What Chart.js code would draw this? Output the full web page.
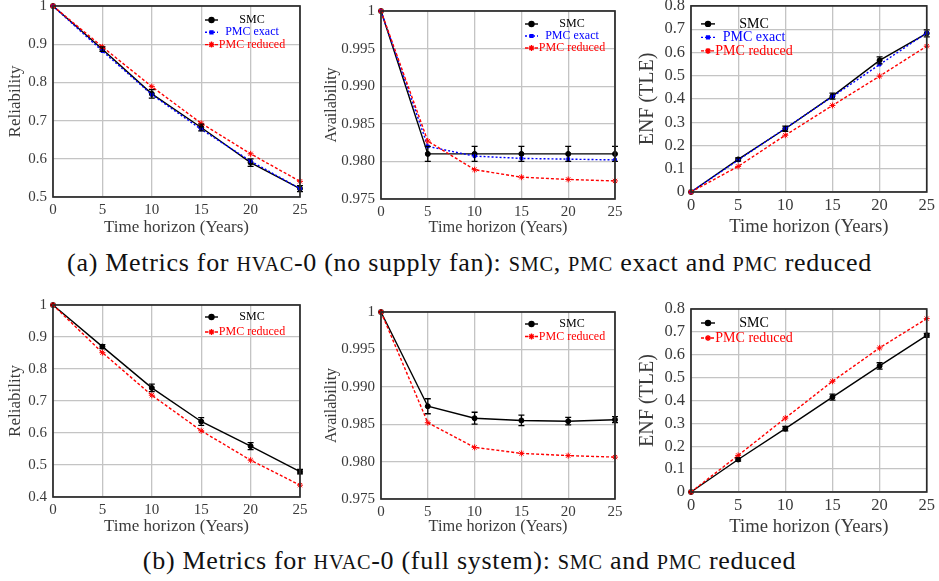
<!DOCTYPE html>
<html>
<head>
<meta charset="utf-8">
<script src="https://cdn.jsdelivr.net/npm/chart.js@4.4.1/dist/chart.umd.min.js"></script>
<style>
  html, body { margin: 0; padding: 0; background: #fff; }
  body { width: 939px; height: 581px; position: relative; overflow: hidden; font-family: 'Liberation Serif', serif; }
  .cap { position: absolute; left: 0; width: 939px; text-align: center; font-family: 'Liberation Serif', serif; font-size: 26px; letter-spacing: 0.7px; line-height: 28px; color: #111; white-space: nowrap; }
  .sc { font-size: 0.78em; }
</style>
</head>
<body>
<div class="cap" style="top:249px">(a) Metrics for <span class="sc">HVAC</span>-0 (no supply fan): <span class="sc">SMC</span>, <span class="sc">PMC</span> exact and <span class="sc">PMC</span> reduced</div>
<div class="cap" style="top:547px">(b) Metrics for <span class="sc">HVAC</span>-0 (full system): <span class="sc">SMC</span> and <span class="sc">PMC</span> reduced</div>
<script>
// time axis
const years = [0, 5, 10, 15, 20, 25];
const xTickLabels = ['0', '5', '10', '15', '20', '25'];

// (a) HVAC-0, no supply fan
const relA_smc = [1, 0.887, 0.770, 0.682, 0.590, 0.522];
const relA_smcErr = [0, 0.006, 0.011, 0.009, 0.010, 0.008];
const relA_exact = [1, 0.882, 0.768, 0.677, 0.594, 0.522];
const relA_reduced = [1, 0.893, 0.789, 0.693, 0.613, 0.541];

const avA_smc = [1, 0.981, 0.981, 0.981, 0.981, 0.981];
const avA_smcErr = [0, 0.001, 0.001, 0.001, 0.001, 0.001];
const avA_exact = [1, 0.9820, 0.9807, 0.9804, 0.9803, 0.9802];
const avA_reduced = [1, 0.9827, 0.9789, 0.9779, 0.9776, 0.9774];

const enfA_smc = [0, 0.140, 0.272, 0.412, 0.566, 0.682];
const enfA_smcErr = [0, 0.007, 0.011, 0.013, 0.015, 0.015];
const enfA_exact = [0, 0.137, 0.274, 0.410, 0.548, 0.684];
const enfA_reduced = [0, 0.110, 0.244, 0.372, 0.498, 0.627];

// (b) HVAC-0, full system
const relB_smc = [1, 0.870, 0.741, 0.636, 0.559, 0.479];
const relB_smcErr = [0, 0.006, 0.012, 0.012, 0.011, 0.007];
const relB_reduced = [1, 0.851, 0.718, 0.607, 0.515, 0.437];

const avB_smc = [1, 0.9874, 0.9858, 0.9855, 0.9854, 0.9856];
const avB_smcErr = [0, 0.0010, 0.0008, 0.0007, 0.0005, 0.0004];
const avB_reduced = [1, 0.9852, 0.9819, 0.9811, 0.9808, 0.9806];

const enfB_smc = [0, 0.142, 0.277, 0.415, 0.551, 0.685];
const enfB_smcErr = [0, 0.007, 0.010, 0.013, 0.014, 0.008];
const enfB_reduced = [0, 0.160, 0.323, 0.484, 0.630, 0.758];

// y ticks
const relATicks = [0.5, 0.6, 0.7, 0.8, 0.9, 1];
const relATickLabels = ['0.5', '0.6', '0.7', '0.8', '0.9', '1'];
const relBTicks = [0.4, 0.5, 0.6, 0.7, 0.8, 0.9, 1];
const relBTickLabels = ['0.4', '0.5', '0.6', '0.7', '0.8', '0.9', '1'];
const avTicks = [0.975, 0.98, 0.985, 0.99, 0.995, 1];
const avTickLabels = ['0.975', '0.980', '0.985', '0.990', '0.995', '1'];
const enfTicks = [0, 0.1, 0.2, 0.3, 0.4, 0.5, 0.6, 0.7, 0.8];
const enfTickLabels = ['0', '0.1', '0.2', '0.3', '0.4', '0.5', '0.6', '0.7', '0.8'];

const FONT = "'Liberation Serif', serif";
const TXT = '#3a3a3a';

// estilos de las series
const styles = {
    'SMC': { color: '#000000', dash: [], point: 'circle', r: 2.5, order: 3 },
    'PMC exact': { color: '#0000ff', dash: [2, 2], point: 'rect', r: 2, order: 2 },
    'PMC reduced': { color: '#ff0000', dash: [3, 2], point: 'star', r: 3, order: 1 },
};

function series(label, values, errors) {
    const s = styles[label];
    return {
        label: label,
        data: years.map((x, i) => ({ x: x, y: values[i] })),
        errors: errors,
        borderColor: s.color,
        backgroundColor: s.color,
        borderDash: s.dash,
        borderWidth: 1.4,
        pointStyle: s.point,
        pointRadius: s.r,
        pointBorderWidth: 1,
        order: s.order,
        tension: 0,
        clip: false,
    };
}

// barras de error + marco + leyenda
const extras = {
    id: 'extras',
    afterDatasetsDraw(chart) {
        const ctx = chart.ctx;
        const ys = chart.scales.y;
        const a = chart.chartArea;
        chart.data.datasets.forEach((ds, di) => {
            if (!ds.errors) return;
            const meta = chart.getDatasetMeta(di);
            ctx.save();
            ctx.strokeStyle = ds.borderColor;
            ctx.lineWidth = 1.3;
            ds.errors.forEach((e, i) => {
                if (!e) return;
                const px = meta.data[i].x;
                const y1 = ys.getPixelForValue(ds.data[i].y - e);
                const y2 = ys.getPixelForValue(ds.data[i].y + e);
                ctx.beginPath();
                ctx.moveTo(px, y1); ctx.lineTo(px, y2);
                ctx.moveTo(px - 3, y1); ctx.lineTo(px + 3, y1);
                ctx.moveTo(px - 3, y2); ctx.lineTo(px + 3, y2);
                ctx.stroke();
            });
            ctx.restore();
        });

        ctx.save();
        ctx.strokeStyle = '#2a2a2a';
        ctx.lineWidth = 1.7;
        ctx.strokeRect(a.left, a.top, a.right - a.left, a.bottom - a.top);
        ctx.restore();

        const lg = chart.options.plugins.extras;
        const base = lg.anchor === 'right' ? a.right : a.left;
        ctx.save();
        ctx.font = lg.size + 'px ' + FONT;
        ctx.textAlign = 'center';
        ctx.textBaseline = 'middle';
        chart.data.datasets.forEach((ds, i) => {
            const y = a.top + lg.row + i * lg.gap;
            const x0 = base + lg.hx, x1 = x0 + lg.hw;
            ctx.strokeStyle = ds.borderColor;
            ctx.fillStyle = ds.borderColor;
            ctx.lineWidth = 1.4;
            ctx.setLineDash(ds.borderDash);
            ctx.beginPath(); ctx.moveTo(x0, y); ctx.lineTo(x1, y); ctx.stroke();
            ctx.setLineDash([]);
            Chart.helpers.drawPoint(ctx, { pointStyle: ds.pointStyle, radius: ds.pointRadius, borderWidth: 1, rotation: 0 }, (x0 + x1) / 2, y);
            ctx.fillStyle = ds.label === 'SMC' ? '#000' : ds.borderColor;
            ctx.fillText(ds.label, base + lg.tx, y);
        });
        ctx.restore();
    }
};

function makeChart(p) {
    const div = document.createElement('div');
    div.style.cssText = `position:absolute;left:${p.box[0]}px;top:${p.box[1]}px;width:${p.box[2]}px;height:${p.box[3]}px`;
    const cv = document.createElement('canvas');
    cv.width = p.box[2]; cv.height = p.box[3];
    div.appendChild(cv);
    document.body.appendChild(div);

    new Chart(cv.getContext('2d'), {
        type: 'line',
        data: { datasets: p.datasets },
        options: {
            responsive: false,
            animation: false,
            events: [],
            layout: { padding: { left: 0, top: p.pt, right: p.pr, bottom: 0 } },
            scales: {
                x: {
                    type: 'linear', min: 0, max: 25,
                    afterFit: s => { s.height = p.xh; },
                    afterBuildTicks: s => { s.ticks = years.map(v => ({ value: v })); },
                    ticks: { autoSkip: false, maxRotation: 0, padding: 4, color: TXT,
                        font: { family: FONT, size: p.tick },
                        callback: (v, i) => xTickLabels[i] },
                    grid: { color: '#c4c4c4', lineWidth: 1.3, drawTicks: false },
                    border: { display: false },
                    title: { display: true, text: 'Time horizon (Years)', color: TXT,
                        font: { family: FONT, size: p.xt }, padding: { top: 0, bottom: p.xpb } },
                },
                y: {
                    min: p.yTicks[0], max: p.yTicks[p.yTicks.length - 1],
                    afterFit: s => { s.width = p.yw; },
                    afterBuildTicks: s => { s.ticks = p.yTicks.map(v => ({ value: v })); },
                    ticks: { autoSkip: false, padding: 6, color: TXT,
                        font: { family: FONT, size: p.tick },
                        callback: (v, i) => p.yLabels[i] },
                    grid: { color: '#c4c4c4', lineWidth: 1.3, drawTicks: false },
                    border: { display: false },
                    title: { display: true, text: p.yTitle, color: TXT,
                        font: { family: FONT, size: p.yt }, padding: { top: p.ypad, bottom: 0 } },
                },
            },
            plugins: {
                legend: { display: false },
                tooltip: { enabled: false },
                extras: p.legend,
            },
        },
        plugins: [extras],
    });
}

// fila (a)
makeChart({
    box: [0, -10, 312, 250], pt: 16, pr: 12, yw: 53, xh: 43, xpb: 2, ypad: 5,
    tick: 15, xt: 17, yt: 17, yTitle: 'Reliability', yTicks: relATicks, yLabels: relATickLabels,
    datasets: [series('SMC', relA_smc, relA_smcErr), series('PMC exact', relA_exact), series('PMC reduced', relA_reduced)],
    legend: { anchor: 'right', hx: -95, hw: 13, tx: -48, row: 14, gap: 12.3, size: 12 },
});
makeChart({
    box: [318, -10, 309, 250], pt: 21, pr: 12, yw: 63, xh: 41, xpb: 2, ypad: 4,
    tick: 15, xt: 16.3, yt: 16, yTitle: 'Availability', yTicks: avTicks, yLabels: avTickLabels,
    datasets: [series('SMC', avA_smc, avA_smcErr), series('PMC exact', avA_exact), series('PMC reduced', avA_reduced)],
    legend: { anchor: 'right', hx: -90, hw: 13, tx: -43, row: 13, gap: 12, size: 12 },
});
makeChart({
    box: [632, -10, 307, 250], pt: 15, pr: 10, yw: 59, xh: 48, xpb: 2, ypad: 4,
    tick: 16.5, xt: 18.7, yt: 20, yTitle: 'ENF (TLE)', yTicks: enfTicks, yLabels: enfTickLabels,
    datasets: [series('SMC', enfA_smc, enfA_smcErr), series('PMC exact', enfA_exact), series('PMC reduced', enfA_reduced)],
    legend: { anchor: 'left', hx: 10, hw: 14, tx: 63, row: 18, gap: 13.5, size: 14 },
});

// fila (b)
makeChart({
    box: [0, 290, 312, 250], pt: 15, pr: 12, yw: 53, xh: 43, xpb: 3, ypad: 5,
    tick: 15, xt: 17, yt: 17, yTitle: 'Reliability', yTicks: relBTicks, yLabels: relBTickLabels,
    datasets: [series('SMC', relB_smc, relB_smcErr), series('PMC reduced', relB_reduced)],
    legend: { anchor: 'right', hx: -95, hw: 13, tx: -48, row: 12, gap: 15, size: 12 },
});
makeChart({
    box: [318, 290, 309, 250], pt: 22, pr: 12, yw: 63, xh: 41, xpb: 3, ypad: 4,
    tick: 15, xt: 16.3, yt: 16, yTitle: 'Availability', yTicks: avTicks, yLabels: avTickLabels,
    datasets: [series('SMC', avB_smc, avB_smcErr), series('PMC reduced', avB_reduced)],
    legend: { anchor: 'right', hx: -90, hw: 13, tx: -43, row: 12, gap: 12.5, size: 12 },
});
makeChart({
    box: [632, 290, 307, 250], pt: 19, pr: 10, yw: 59, xh: 48, xpb: 2, ypad: 4,
    tick: 16.5, xt: 18.7, yt: 20, yTitle: 'ENF (TLE)', yTicks: enfTicks, yLabels: enfTickLabels,
    datasets: [series('SMC', enfB_smc, enfB_smcErr), series('PMC reduced', enfB_reduced)],
    legend: { anchor: 'left', hx: 10, hw: 14, tx: 63, row: 14, gap: 15, size: 14 },
});
</script>
</body>
</html>
